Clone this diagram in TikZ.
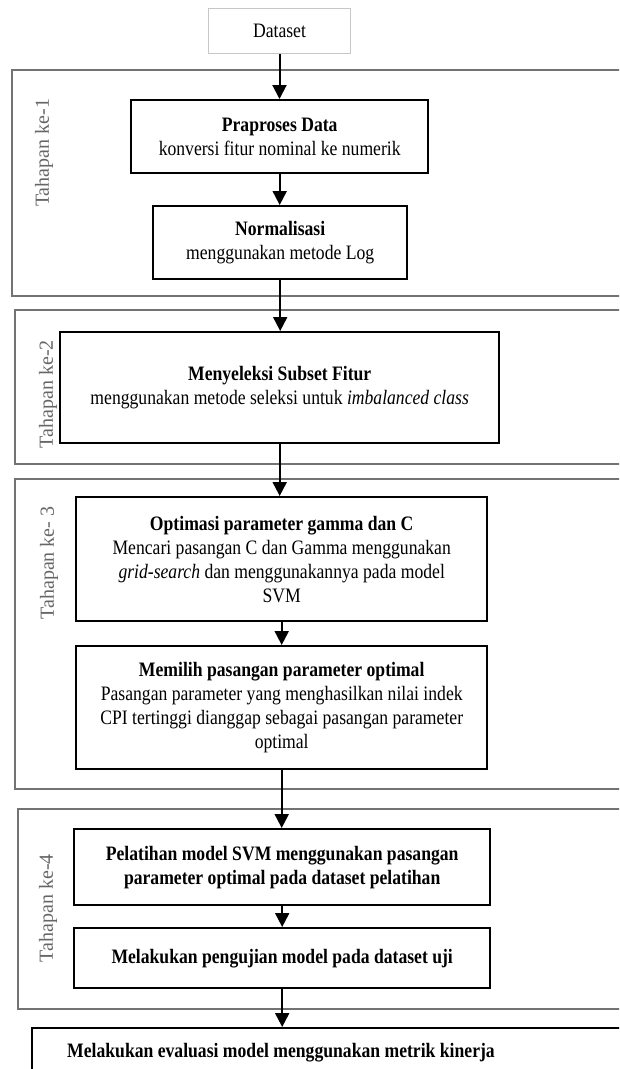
\documentclass[tikz,border=0pt]{standalone}
\usepackage{fontspec}
\setmainfont{Liberation Serif}[FakeStretch=0.86]
\newfontfamily\stagefont{Liberation Serif}
\usetikzlibrary{arrows.meta}

\tikzset{
  txt/.style={font=\fontsize{20.5}{24}\selectfont, align=center, inner sep=0pt},
  box/.style={txt, draw=black, line width=2.4pt, fill=white, anchor=north west},
  srcbox/.style={txt, draw=black!22, line width=1pt, fill=white, anchor=north west},
  stageframe/.style={draw=black!55, line width=1.8pt, anchor=north west, inner sep=0pt},
  stagelabel/.style={font=\stagefont\fontsize{20}{24}\selectfont, text=black!60, rotate=90, inner sep=0pt},
  arr/.style={line width=2pt, -{Triangle[width=14pt,length=14pt]}}
}

\begin{document}
\begin{tikzpicture}[x=1pt,y=-1pt]
\useasboundingbox (0,0) rectangle (619,1069);
\clip (0,0) rectangle (619,1069);

% stage frames (open to the right edge)
\node[stageframe, minimum width=640, minimum height=226] (tahap1) at (11,69) {};
\node[stageframe, minimum width=640, minimum height=154] (tahap2) at (14,309) {};
\node[stageframe, minimum width=640, minimum height=310] (tahap3) at (14,478) {};
\node[stageframe, minimum width=640, minimum height=200] (tahap4) at (17,808) {};

\node[stagelabel] (lab1) at (44,153) {Tahapan ke-1};
\node[stagelabel] (lab2) at (48,394) {Tahapan ke-2};
\node[stagelabel] (lab3) at (49,563) {Tahapan ke- 3};
\node[stagelabel] (lab4) at (48,908) {Tahapan ke-4};

% process boxes
\node[srcbox, minimum width=142, minimum height=45] (data) at (208,8) {Dataset};

\node[box, minimum width=297, minimum height=73] (prep) at (130,99)
  {\textbf{Praproses Data}\\konversi fitur nominal ke numerik};
\node[box, minimum width=254, minimum height=73] (norm) at (152,205)
  {\textbf{Normalisasi}\\menggunakan metode Log};

\node[box, minimum width=439, minimum height=111] (seleksi) at (59,331)
  {\textbf{Menyeleksi Subset Fitur}\\menggunakan metode seleksi untuk \textit{imbalanced class}};

\node[box, minimum width=411, minimum height=124] (optim) at (75,496)
  {\textbf{Optimasi parameter gamma dan C}\\Mencari pasangan C dan Gamma menggunakan\\\textit{grid-search} dan menggunakannya pada model\\SVM};
\node[box, minimum width=411, minimum height=123] (pilih) at (75,645)
  {\textbf{Memilih pasangan parameter optimal}\\Pasangan parameter yang menghasilkan nilai indek\\CPI tertinggi dianggap sebagai pasangan parameter\\optimal};

\node[box, minimum width=416, minimum height=76] (latih) at (73,828)
  {\textbf{Pelatihan model SVM menggunakan pasangan}\\\textbf{parameter optimal pada dataset pelatihan}};
\node[box, minimum width=416, minimum height=60] (uji) at (73,927)
  {\textbf{Melakukan pengujian model pada dataset uji}};

\node[box, minimum width=640, minimum height=70] (eval) at (31,1027) {};
\node[txt] (evaltext) at (281,1053)
  {\textbf{Melakukan evaluasi model menggunakan metrik kinerja}};

% connectors
\draw[arr] (data.south) -- (data.south |- prep.north);
\draw[arr] (prep.south) -- (prep.south |- norm.north);
\draw[arr] (norm.south) -- (norm.south |- seleksi.north);
\draw[arr] (seleksi.south) -- (seleksi.south |- optim.north);
\draw[arr] (optim.south) -- (optim.south |- pilih.north);
\draw[arr] (pilih.south) -- (pilih.south |- latih.north);
\draw[arr] (latih.south) -- (latih.south |- uji.north);
\draw[arr] (uji.south) -- (uji.south |- eval.north);
\end{tikzpicture}
\end{document}
